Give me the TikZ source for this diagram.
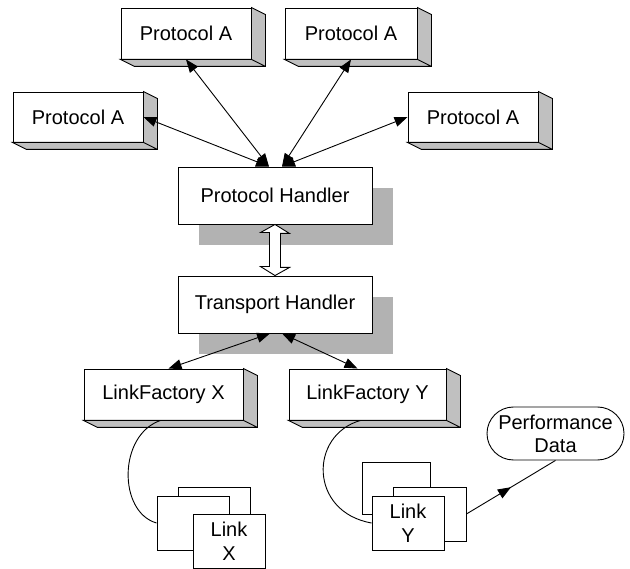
\documentclass[tikz,border=0pt]{standalone}
\usepackage{fontspec}
\setmainfont{Liberation Sans}
\usepackage{tikz}
\usetikzlibrary{arrows.meta}
\usetikzlibrary{shadows}
\usetikzlibrary{shapes.misc}
\usetikzlibrary{decorations.markings}
\definecolor{sidegray}{RGB}{192,192,192}
\definecolor{shadowgray}{RGB}{178,178,178}
\begin{document}
\begin{tikzpicture}
		[x=1pt, y=-1pt, line width=0.9pt,
		font=\fontsize{20}{24}\selectfont,
		slab/.style={draw, fill=white, inner sep=0, minimum width=130, minimum height=51},
		handler/.style={draw, fill=white, inner sep=0, minimum width=194, minimum height=57,
			drop shadow={shadow xshift=21pt, shadow yshift=-21pt, fill=shadowgray, opacity=1}},
		linkbox/.style={draw, fill=white, inner sep=0, minimum width=72, minimum height=54, align=center},
		tri/.tip={Triangle[length=13pt, width=10pt]},
		link/.style={tri-tri}]
		\useasboundingbox (0,0) rectangle (630,569);

		\node[slab] (pa1) at (186,33.5) {Protocol A};
		\node[slab, minimum width=132] (pa2) at (351,33.5) {Protocol A};
		\node[slab, minimum height=50] (pa3) at (78,117) {Protocol A};
		\node[slab, minimum height=50] (pa4) at (473,117) {Protocol A};
		\node[slab, minimum width=159] (lfx) at (163.5,394.5) {LinkFactory X};
		\node[slab, minimum width=157] (lfy) at (367.5,394.5) {LinkFactory Y};
		\foreach \b in {pa1,pa2,pa3,pa4,lfx,lfy}
			\filldraw[fill=sidegray] (\b.north east) -- ++(14,7) -- ([shift={(14,7)}]\b.south east)
				-- ([shift={(14,7)}]\b.south west) -- (\b.south west) -- (\b.south east) -- cycle
				(\b.south east) -- ++(14,7);

		\node[handler] (ph) at (275,195.5) {Protocol Handler};
		\node[handler] (th) at (275,304.5) {Transport Handler};

		\node[linkbox] (lxb) at (214.5,514) {};
		\node[linkbox] (lxm) at (193,523) {};
		\node[linkbox] (lxf) at (229,541) {Link\\X};
		\node[linkbox, minimum width=68, minimum height=52] (lyb) at (396,488) {};
		\node[linkbox, minimum width=73] (lym) at (429.5,514) {};
		\node[linkbox] (lyf) at (408,523) {Link\\Y};

		\node[draw, rounded rectangle, inner sep=0, minimum width=137, minimum height=53,
			align=center, font=\fontsize{20}{23}\selectfont] (pd) at (555.5,433.5) {Performance\\Data};

		\draw[link] (pa1.south) -- ([xshift=-6]ph.north);
		\draw[link] (pa3.east) -- ([xshift=-6]ph.north);
		\draw[link] (pa2.south) -- ([xshift=7]ph.north);
		\draw[link] (pa4.west) -- ([xshift=7]ph.north);

		\draw[fill=white] (ph.south) -- ++(14.5,9) -- ++(-9,0) -- ++(0,34) -- ++(9,0) -- (th.north)
			-- ++(-14.5,-9) -- ++(9,0) -- ++(0,-34) -- ++(-9,0) -- cycle;

		\draw[link] ([xshift=-5]th.south) -- ([xshift=5]lfx.north);
		\draw[link] ([xshift=7]th.south) -- ([xshift=-10]lfy.north);

		\draw ([xshift=-3]lfx.south) .. controls (118,435) and (118,512) .. (lxm.west);
		\draw ([xshift=-7]lfy.south) .. controls (309,435) and (309,512) .. (lyf.west);

		\draw[decoration={markings, mark=at position 0.5 with {\arrow{tri}}}, postaction={decorate}]
			(lym.east) -- (pd.south);
	\end{tikzpicture}
\end{document}
